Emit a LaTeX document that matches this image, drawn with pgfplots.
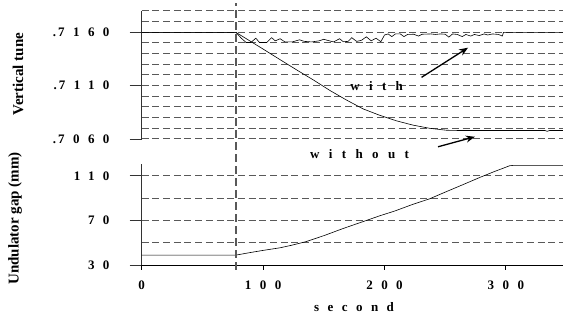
\documentclass[border=0pt]{standalone}
\usepackage{pgfplots}
\pgfplotsset{compat=1.18}
\usetikzlibrary{arrows.meta}
\usepackage{fontspec}
\setmainfont{Liberation Serif}
\newfontfamily\spaced[LetterSpace=65]{Liberation Serif Bold}
\newfontfamily\spacedb[LetterSpace=72]{Liberation Serif Bold}
\newfontfamily\labelfont{Liberation Serif Bold}
\begin{document}
\begin{tikzpicture}
\useasboundingbox (0,0) rectangle (563pt,326pt);
\pgfplotsset{
  gridstyle/.style={dash pattern=on 7pt off 3.7pt, black!65, line width=1pt},
}
% ---------------- top panel: vertical tune
\begin{axis}[
  at={(141.7pt,187pt)}, anchor=south west,
  scale only axis, width=421.3pt, height=128pt,
  xmin=0, xmax=347, ymin=0.706, ymax=0.718,
  axis x line=none, axis y line=left,
  y axis line style={-, line width=1.2pt, black!80},
  scaled y ticks=false,
  ytick={0.706,0.711,0.716},
  yticklabels={{{\labelfont.\kern2pt}7060\hspace*{20pt}},{{\labelfont.\kern2pt}7110\hspace*{20pt}},{{\labelfont.\kern2pt}7160\hspace*{20pt}}},
  minor ytick={0.707,0.708,0.709,0.710,0.712,0.713,0.714,0.715,0.717,0.718},
  ymajorgrids, yminorgrids,
  major grid style={gridstyle},
  minor grid style={gridstyle},
  major tick length=12pt, minor tick length=0pt, tick align=outside,
  ytick style={black!80, line width=0.8pt},
  yticklabel style={font=\spaced\fontsize{13}{13}\selectfont, anchor=east, inner xsep=0pt, text depth=0pt},
  ylabel={Vertical tune},
  ylabel style={font=\labelfont\fontsize{15}{15}\selectfont, at={(axis description cs:-0.2936,0.508)}, anchor=center},
  clip=false,
]
% without
\addplot[black, line width=0.6pt] coordinates {
(0,0.7160)(77.6,0.7160)(90,0.71513)(100,0.71443)(113.8,0.71345)(127.6,0.71248)
(141.2,0.71155)(155,0.71055)(168.7,0.70965)(182.4,0.70882)(196.1,0.70822)
(209.9,0.70770)(223.5,0.70730)(237.3,0.70700)(251,0.70682)(260,0.70680)
(332,0.70680)(334,0.70672)(336,0.70680)(347,0.70680)};
% with
\addplot[black, line width=0.6pt] coordinates {
(0,0.7160)(77.6,0.7160)(82,0.71545)(86,0.71505)(90,0.71505)(94,0.71545)(97,0.71505)
(103,0.71505)(107,0.71550)(110,0.71520)(114,0.71540)(118,0.71510)(124,0.71510)
(130,0.71530)(134,0.71515)(140,0.71510)(146,0.71520)(150,0.71535)(153,0.71525)
(158,0.71510)(163,0.71540)(166,0.71512)(170,0.71515)(173,0.71550)(177,0.71515)
(181,0.71525)(185,0.71558)(189,0.71520)(193,0.71545)(197,0.71512)(200,0.71575)
(203,0.71585)(206,0.71560)(209,0.71585)(213,0.71585)(216,0.71560)(219,0.71580)
(224,0.71582)(228,0.71565)(231,0.71582)(238,0.71585)(242,0.71580)(246,0.71585)
(250,0.71582)(253,0.71555)(256,0.71585)(260,0.71580)(264,0.71560)(267,0.71580)
(271,0.71565)(274,0.71580)(278,0.71570)(282,0.71585)(285,0.71575)(289,0.71585)
(294,0.71580)(297,0.71565)(298,0.71600)(347,0.71600)};
\node[font=\spacedb\fontsize{13}{13}\selectfont] at (axis cs:193.5,0.71096) {with};
\node[font=\spacedb\fontsize{13}{13}\selectfont] at (axis cs:179.5,0.70458) {without};
\draw[-{Stealth[length=9pt,width=7pt]}, line width=1.3pt] (axis cs:230.5,0.71178) -- (axis cs:268.8,0.71456);
\draw[-{Stealth[length=9pt,width=7pt]}, line width=1.3pt] (axis cs:244.1,0.70527) -- (axis cs:274.4,0.70621);
\end{axis}
% ---------------- bottom panel: undulator gap
\begin{axis}[
  at={(141.7pt,60.7pt)}, anchor=south west,
  scale only axis, width=421.3pt, height=100.8pt,
  xmin=0, xmax=347, ymin=30, ymax=120,
  axis x line=bottom, axis y line=left,
  x axis line style={-, line width=1pt, black},
  y axis line style={-, line width=1.2pt, black!80},
  xtick={0,100,200,300}, xticklabels={0,100,200,300},
  xtick style={draw=none},
  ytick={30,70,110}, yticklabels={30\hspace*{20pt},70\hspace*{20pt},110\hspace*{20pt}},
  minor ytick={50,90},
  ymajorgrids, yminorgrids,
  major grid style={gridstyle},
  minor grid style={gridstyle},
  major tick length=12pt, minor tick length=0pt, tick align=outside,
  ytick style={black!80, line width=0.8pt},
  ticklabel style={font=\spaced\fontsize{13}{13}\selectfont},
  yticklabel style={anchor=east, inner xsep=0pt, text depth=0pt},
  ylabel={Undulator gap (mm)},
  ylabel style={font=\labelfont\fontsize{15}{15}\selectfont, at={(axis description cs:-0.3007,0.466)}, anchor=center},
  clip=false,
]
\addplot[black, line width=0.6pt] coordinates {
(0,39.1)(77.6,39.1)(90,41.5)(100,43.3)(113.8,45.6)(123.5,47.9)(135,51.0)
(150.9,56.8)(165,62.5)(178.3,67.5)(196.1,74.2)(208.5,78.5)(223.5,84.5)
(237,89.3)(251,95.8)(265,102.2)(278.4,108.4)(290,113.5)(303.1,118.9)
(306,119.2)(347,119.2)};
\draw[black!65, line width=1.2pt, dash pattern=on 8pt off 4pt] (axis cs:77.6,26) -- (axis cs:77.6,264);
\node[font=\spaced\fontsize{13}{13}\selectfont] at (axis description cs:0.504,-0.41) {second};
\end{axis}
% ---------------- x tick marks of the bottom panel
\begin{axis}[
  at={(141.7pt,60.7pt)}, anchor=south west,
  scale only axis, width=421.3pt, height=100.8pt,
  xmin=0, xmax=347, ymin=30, ymax=120,
  axis x line=bottom, axis y line=none,
  x axis line style={draw=none},
  xtick={0,100,200,300}, xticklabels={},
  major tick length=4.5pt, tick align=outside,
  xtick style={black, line width=1pt},
]
\end{axis}
\end{tikzpicture}
\end{document}
